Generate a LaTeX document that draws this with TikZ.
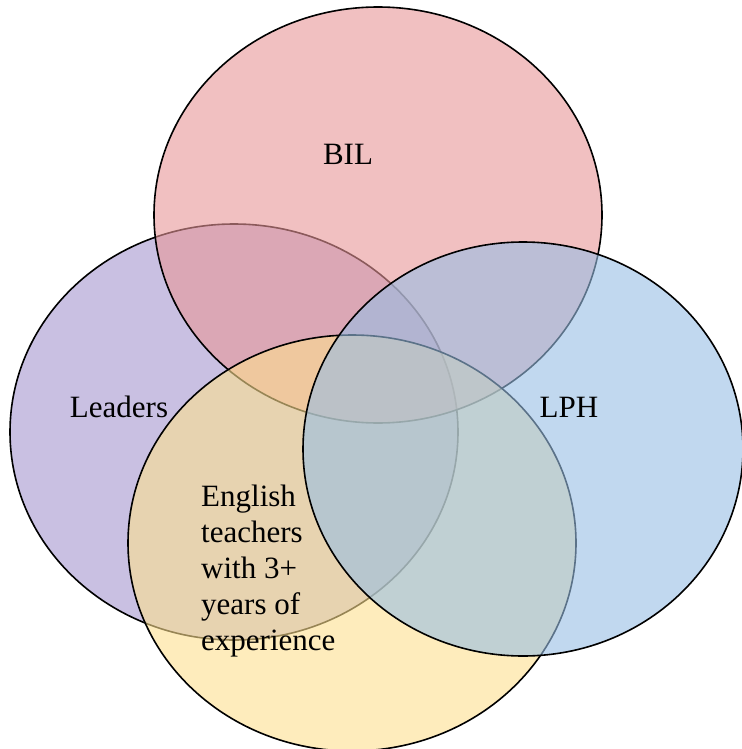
\documentclass[tikz,border=0pt]{standalone}
\usepackage{fontspec}
\setmainfont{Liberation Serif}
\usetikzlibrary{shapes.geometric}
\definecolor{leadpurple}{RGB}{165,150,207}
\definecolor{bilred}{RGB}{232,150,152}
\definecolor{engyellow}{RGB}{253,223,143}
\definecolor{lphblue}{RGB}{152,190,228}
\newcommand{\setwd}{448pt}
\newcommand{\setht}{416pt}
\tikzset{vennset/.style={ellipse, draw, line width=1.6pt, fill opacity=0.6, inner sep=0pt, minimum width=\setwd, minimum height=\setht}}
\tikzset{setlabel/.style={font=\fontsize{31}{36}\selectfont, inner sep=0pt}}

\begin{document}
\begin{tikzpicture}[x=1pt,y=1pt]
\useasboundingbox (0,0) rectangle (741,-749);

\node[vennset, fill=leadpurple] (0) at (234,-432) {};
\node[vennset, fill=bilred] (1) at (378,-215) {};
\node[vennset, fill=engyellow] (2) at (352,-543) {};
\node[vennset, fill=lphblue, minimum width=440pt, minimum height=414pt] (3) at (523,-449) {};

\node[setlabel, anchor=base] (4) at (348,-164) {BIL};
\node[setlabel, anchor=base] (5) at (119,-417) {Leaders};
\node[setlabel, anchor=base] (6) at (569,-417) {LPH};
%% base of a multi-line node sits on its last line
\node[setlabel, anchor=base west, align=left] (7) at (201,-650) {English\\teachers\\with 3+\\years of\\experience};
\end{tikzpicture}
\end{document}
